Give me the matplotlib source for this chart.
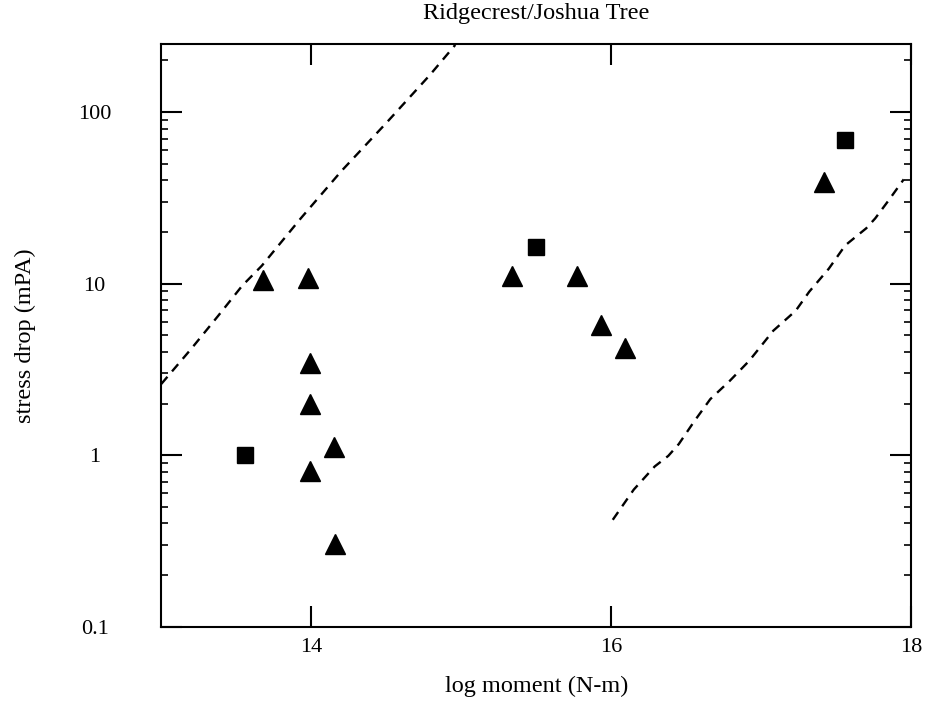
import matplotlib
matplotlib.use('Agg')
import matplotlib.pyplot as plt
from matplotlib.ticker import LogLocator, NullFormatter, FixedLocator

# triangles
tri_x = [13.68, 13.98, 13.99, 13.99, 14.15, 13.99, 14.16, 15.34, 15.77, 15.93, 16.09, 17.42]
tri_y = [10.5, 10.8, 3.45, 2.0, 1.11, 0.81, 0.305, 11.1, 11.1, 5.7, 4.2, 39]

# squares
sq_x = [13.56, 15.50, 17.56]
sq_y = [1.0, 16.3, 68.6]

# dashed bounds
left_x = [13.0, 13.20, 13.38, 13.54, 13.67, 13.93, 14.20, 14.50, 14.79, 14.96]
left_y = [2.60, 4.17, 6.50, 9.73, 12.7, 24.0, 45.2, 86.3, 164, 246]
right_x = [16.01, 16.15, 16.29, 16.38, 16.45, 16.55, 16.66, 16.79, 16.92, 17.08,
           17.23, 17.32, 17.45, 17.56, 17.70, 17.76, 17.85, 17.95]
right_y = [0.42, 0.63, 0.86, 0.99, 1.16, 1.56, 2.12, 2.71, 3.55, 5.31,
           6.95, 8.97, 12.2, 16.7, 21.0, 24.0, 30.6, 40.5]

plt.rcParams['font.family'] = ['Liberation Serif', 'DejaVu Serif']

fig = plt.figure(figsize=(9.27, 7.05), dpi=100)
ax = fig.add_axes([0.174, 0.111, 0.809, 0.827])

ax.plot(left_x, left_y, color='black', lw=1.7, linestyle=(0, (4, 3)))
ax.plot(right_x, right_y, color='black', lw=1.7, linestyle=(0, (4, 3)))
ax.plot(tri_x, tri_y, '^', color='black', markersize=14, linestyle='none')
ax.plot(sq_x, sq_y, 's', color='black', markersize=12, linestyle='none')

ax.set_yscale('log')
ax.set_xlim(13, 18)
ax.set_ylim(0.1, 250)

ax.xaxis.set_major_locator(FixedLocator([14, 16, 18]))
ax.set_xticklabels(['14', '16', '18'])
ax.yaxis.set_major_locator(FixedLocator([0.1, 1, 10, 100]))
ax.set_yticklabels(['0.1', '1', '10', '100'])
ax.yaxis.set_minor_locator(LogLocator(base=10, subs=range(2, 10)))
ax.yaxis.set_minor_formatter(NullFormatter())

ax.tick_params(axis='both', which='major', direction='in', length=15, width=1.5,
               top=True, right=True, labelsize=16)
ax.tick_params(axis='y', which='minor', direction='in', length=5, width=1.2, right=True)
ax.tick_params(axis='y', which='major', pad=48)
ax.tick_params(axis='x', which='major', pad=8)
for lbl in ax.get_yticklabels():
    lbl.set_horizontalalignment('center')

for s in ax.spines.values():
    s.set_linewidth(1.5)

ax.set_title('Ridgecrest/Joshua Tree', fontsize=17.5, pad=18)
ax.set_xlabel('log moment (N-m)', fontsize=17.5, labelpad=14)
ax.set_ylabel('stress drop (mPA)', fontsize=17.5, labelpad=30)

fig.savefig('out.png', dpi=100)
